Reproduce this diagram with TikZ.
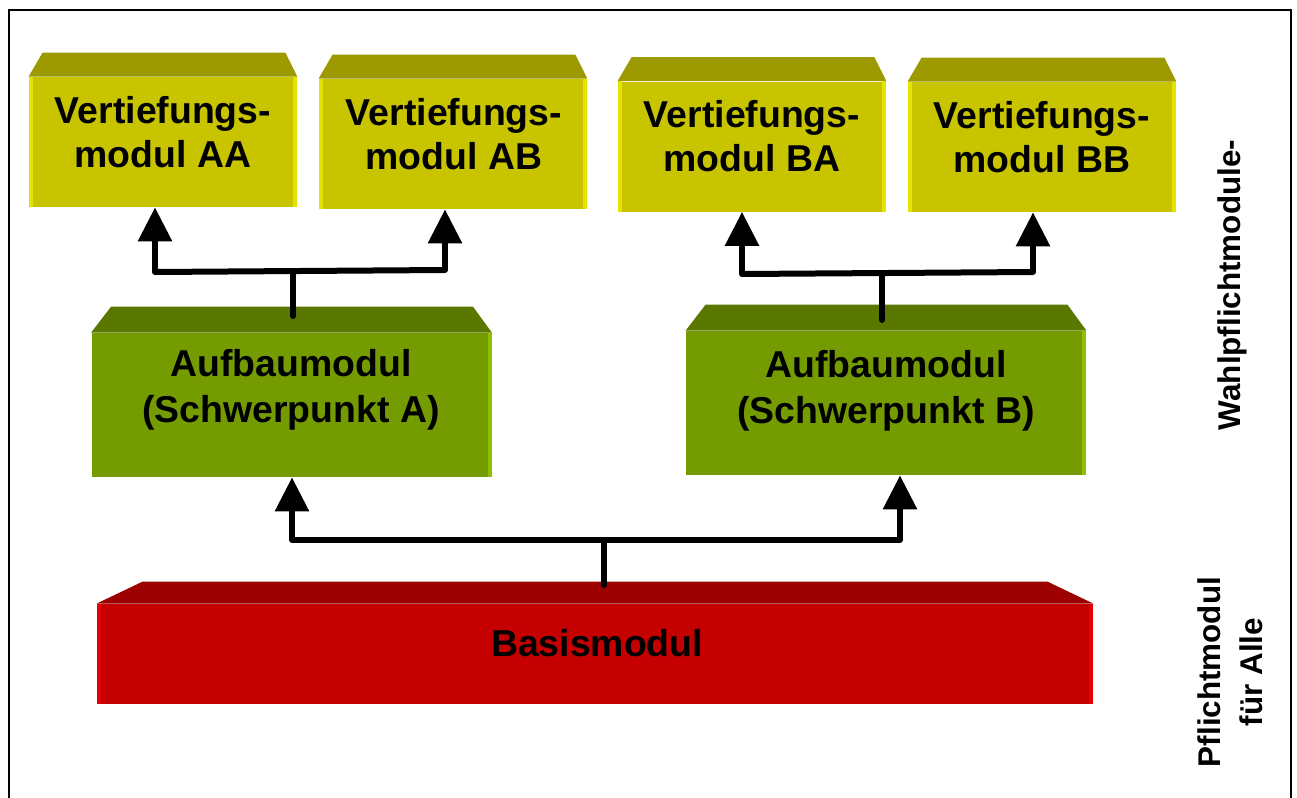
\documentclass[tikz,border=0pt]{standalone}
\usepackage{fontspec}
\setmainfont{Liberation Sans}
\usetikzlibrary{arrows.meta}
\definecolor{yfront}{RGB}{200,196,0}
\definecolor{ytop}{RGB}{156,154,0}
\definecolor{yside}{RGB}{228,228,0}
\definecolor{gfront}{RGB}{116,156,0}
\definecolor{gtop}{RGB}{90,120,0}
\definecolor{gside}{RGB}{142,192,0}
\definecolor{rfront}{RGB}{196,0,0}
\definecolor{rtop}{RGB}{156,0,0}
\definecolor{rside}{RGB}{230,0,0}
\tikzset{
  boxbase/.style={rectangle, inner sep=0pt, draw=none},
  ybox/.style={boxbase, fill=yfront, minimum width=134pt, minimum height=65pt},
  gbox/.style={boxbase, fill=gfront, minimum width=200pt, minimum height=72pt},
  rbox/.style={boxbase, fill=rfront, minimum width=498pt, minimum height=50pt},
  boxtext/.style={inner sep=0pt, align=center, font=\fontsize{18.7}{22}\selectfont\bfseries},
  sidetext/.style={inner sep=0pt, align=center, rotate=90, font=\fontsize{15.7}{21}\selectfont\bfseries},
  conn/.style={line width=3pt, line cap=round},
  arr/.style={line width=3pt, -{Triangle[width=16.5pt,length=17pt]}},
}
\begin{document}
\begin{tikzpicture}[x=0.5pt,y=-0.5pt]
\useasboundingbox (0,0) rectangle (1297,798);
\fill[white] (0,0) rectangle (1297,798);
% frame
\draw[line width=1pt] (9,820) -- (9,10) -- (1291,10) -- (1291,820);

% yellow boxes
\foreach \n/\x/\y in {aa/163/142, ab/453/144, ba/752/146.5, bb/1042/147}{
  \node[ybox] (\n) at (\x,\y) {};
  \fill[ytop] (\n.north west) -- ++(14,-24) -- ([shift={(-12,-24)}]\n.north east) -- (\n.north east) -- cycle;
  \fill[yside] (\n.north west) rectangle ([xshift=2pt]\n.south west);
  \fill[yside] ([xshift=-2pt]\n.north east) rectangle (\n.south east);
}
% green boxes
\foreach \n/\x/\y in {ga/291.5/405, gb/886/403}{
  \node[gbox] (\n) at (\x,\y) {};
  \fill[gtop] (\n.north west) -- ++(20,-26) -- ([shift={(-19,-26)}]\n.north east) -- (\n.north east) -- cycle;
  \fill[gside] ([xshift=-2pt]\n.north east) rectangle (\n.south east);
}
% red box
\node[rbox] (rb) at (595,654) {};
\fill[rtop] (rb.north west) -- ++(46,-22) -- ([shift={(-46,-22)}]rb.north east) -- (rb.north east) -- cycle;
\fill[rside] (rb.north west) rectangle ([xshift=2pt]rb.south west);
\fill[rside] ([xshift=-2pt]rb.north east) rectangle (rb.south east);

% texts
\node[boxtext] (aat) at (163,132) {Vertiefungs-\\modul AA};
\node[boxtext] (abt) at (454,134) {Vertiefungs-\\modul AB};
\node[boxtext] (bat) at (752,136) {Vertiefungs-\\modul BA};
\node[boxtext] (bbt) at (1042,137) {Vertiefungs-\\modul BB};
\node[boxtext, font=\fontsize{18.7}{23}\selectfont\bfseries] (gat) at (291,390) {Aufbaumodul\\(Schwerpunkt A)};
\node[boxtext, font=\fontsize{18.7}{23}\selectfont\bfseries] (gbt) at (886,391) {Aufbaumodul\\(Schwerpunkt B)};
\node[boxtext] (rbt) at (597,643) {Basismodul};
\node[sidetext] (wahl) at (1232,285) {Wahlpflichtmodule-};
\node[sidetext] (pfl) at (1230,672) {Pflichtmodul\\für Alle};

% connectors top left
\coordinate (t1l) at (155,272);
\coordinate (t1r) at (445,270);
\coordinate (t1m) at (293,271);
\draw[conn] (t1l) -- (t1r);
\draw[conn] (t1m) -- ++(0,45);
\draw[arr] (t1l) -- (t1l |- aa.south);
\draw[arr] (t1r) -- (t1r |- ab.south);
% connectors top right
\coordinate (t2l) at (742,274);
\coordinate (t2r) at (1033,272);
\coordinate (t2m) at (882,273);
\draw[conn] (t2l) -- (t2r);
\draw[conn] (t2m) -- ++(0,47);
\draw[arr] (t2l) -- (t2l |- ba.south);
\draw[arr] (t2r) -- (t2r |- bb.south);
% connectors bottom
\coordinate (bl) at (292,540);
\coordinate (br) at (900,540);
\coordinate (bm) at (604,540);
\draw[conn] (bl) -- (br);
\draw[conn] (bm) -- ++(0,45);
\draw[arr] (bl) -- (bl |- ga.south);
\draw[arr] (br) -- (br |- gb.south);
\end{tikzpicture}
\end{document}
